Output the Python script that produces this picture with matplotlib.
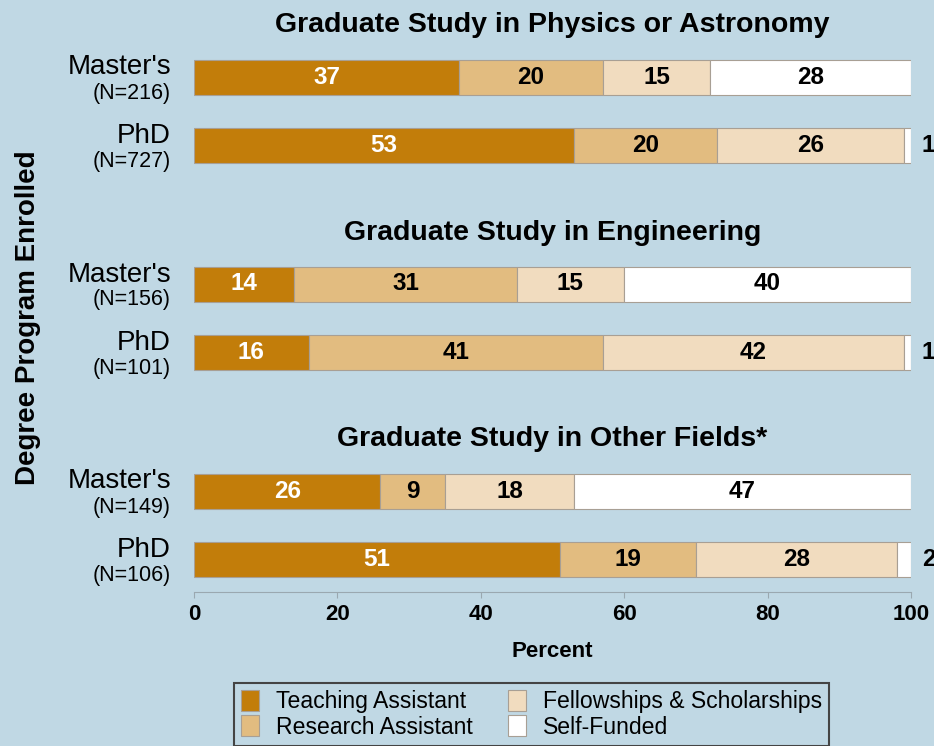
import matplotlib
matplotlib.use('Agg')
import matplotlib.pyplot as plt
import matplotlib.font_manager as fm
from matplotlib.patches import Patch

plt.rcParams['font.family'] = ['Liberation Sans', 'DejaVu Sans']
installed = {f.name for f in fm.fontManager.ttflist}
narrow = 'Liberation Sans Narrow' if 'Liberation Sans Narrow' in installed else 'Liberation Sans'

# data
groups = ['Graduate Study in Physics or Astronomy',
          'Graduate Study in Engineering',
          'Graduate Study in Other Fields*']
programs = ["Master's", 'PhD']
n_counts = [[216, 727], [156, 101], [149, 106]]
categories = ['Teaching Assistant', 'Research Assistant',
              'Fellowships & Scholarships', 'Self-Funded']
teaching = [37, 53, 14, 16, 26, 51]
research = [20, 20, 31, 41, 9, 19]
fellowships = [15, 26, 15, 42, 18, 28]
self_funded = [28, 1, 40, 1, 47, 2]

colors = ['#C27D0A', '#E2BC80', '#F1DCBF', '#FFFFFF']
bg = '#C0D8E4'

W, H = 934, 746
fig = plt.figure(figsize=(W / 100, H / 100), dpi=100, facecolor=bg)
# axes in pixel-like units: 0..592 vertically
ax = fig.add_axes([194 / W, 1 - 592 / H, (911 - 194) / W, 592 / H])
ax.set_facecolor(bg)
ax.set_xlim(0, 100)
ax.set_ylim(592, 0)

first_center = 77
group_step = 207
row_step = 68.5
bar_h = 35

series = [teaching, research, fellowships, self_funded]
for g in range(len(groups)):
    g0 = first_center + g * group_step
    ax.text(50, g0 - bar_h / 2 - 27, groups[g], ha='center', va='baseline',
            fontsize=20.5, fontweight='bold')
    for r in range(len(programs)):
        i = g * 2 + r
        y = g0 + r * row_step
        left = 0
        for k, s in enumerate(series):
            v = s[i]
            ax.barh(y, v, left=left, height=bar_h, color=colors[k],
                    edgecolor='#a89f94', linewidth=0.8)
            if v >= 5:
                ax.text(left + v / 2, y, str(v), ha='center', va='center',
                        fontsize=17.5, fontweight='bold', family=narrow,
                        color='white' if k == 0 else 'black')
            else:
                ax.text(101.5, y, str(v), ha='left', va='center', family=narrow,
                        fontsize=17.5, fontweight='bold', clip_on=False)
            left += v
        ax.text(-3.2, y - 2.5, programs[r], ha='right', va='baseline', fontsize=20)
        ax.text(-3.2, y + 21.5, '(N=%d)' % n_counts[g][r], ha='right',
                va='baseline', fontsize=15.5)

for side in ['top', 'left', 'right']:
    ax.spines[side].set_visible(False)
ax.spines['bottom'].set_color('#9aa8b0')
ax.spines['bottom'].set_linewidth(0.8)
ax.set_yticks([])
ax.set_xticks([0, 20, 40, 60, 80, 100])
ax.tick_params(axis='x', colors='#9aa8b0', length=4, width=0.8,
               labelcolor='black', labelsize=16, pad=5)
for lab in ax.get_xticklabels():
    lab.set_fontweight('bold')
ax.set_xlabel('Percent', fontsize=16, fontweight='bold', labelpad=11)

fig.text(28 / W, 1 - 318 / H, 'Degree Program Enrolled', rotation=90,
         ha='center', va='center', fontsize=20, fontweight='bold')

handles = [Patch(facecolor=c, edgecolor='#a89f94', linewidth=0.8) for c in colors]
leg = fig.legend(handles, categories, loc='upper left',
                 bbox_to_anchor=(234 / W, 1 - 683 / H), ncol=2,
                 fontsize=16.6, frameon=True, fancybox=False,
                 facecolor=bg, edgecolor='#444444', framealpha=1,
                 borderpad=0.3, labelspacing=0.1, handlelength=0.8,
                 handleheight=1.0, handletextpad=0.7, columnspacing=1.55,
                 borderaxespad=0)
leg.get_frame().set_linewidth(1.5)

plt.savefig('out.png', dpi=100, facecolor=bg)
